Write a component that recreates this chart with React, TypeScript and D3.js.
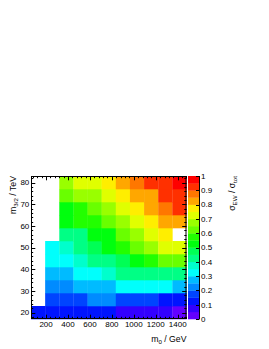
import React from 'react';
import * as d3 from 'd3';

// m0 bin centres (GeV) and m3/2 bin centres (TeV)
const m0Centers = [127, 256, 385, 514, 642, 771, 900, 1029, 1158, 1287, 1416];
const m0BinWidth = 128.8;
const m32Centers = [20, 26, 32, 38, 44, 50, 56, 62, 68, 74, 80];
const m32BinWidth = 6;

// sigma_EW / sigma_tot, one row per m3/2 value (null = no point)
const row20 = [0.13, 0.12, 0.12, 0.11, 0.11, 0.11, 0.08, 0.08, 0.07, 0.06, 0.03];
const row26 = [null, 0.18, 0.18, 0.17, 0.22, 0.21, 0.17, 0.17, 0.16, 0.13, 0.12];
const row32 = [null, 0.23, 0.23, 0.27, 0.27, 0.28, 0.32, 0.32, 0.31, 0.31, 0.28];
const row38 = [null, 0.28, 0.28, 0.32, 0.33, 0.37, 0.42, 0.42, 0.43, 0.42, 0.41];
const row44 = [null, 0.33, 0.33, 0.37, 0.42, 0.43, 0.47, 0.52, 0.57, 0.62, 0.62];
const row50 = [null, 0.32, 0.37, 0.42, 0.47, 0.52, 0.57, 0.62, 0.67, 0.72, 0.73];
const row56 = [null, null, 0.42, 0.43, 0.52, 0.53, 0.62, 0.67, 0.72, 0.77, null];
const row62 = [null, null, 0.52, 0.56, 0.57, 0.62, 0.67, 0.72, 0.77, 0.82, 0.83];
const row68 = [null, null, 0.53, 0.57, 0.62, 0.67, 0.72, 0.77, 0.82, 0.87, 0.92];
const row74 = [null, null, 0.62, 0.67, 0.68, 0.72, 0.77, 0.82, 0.83, 0.92, 0.93];
const row80 = [null, null, 0.67, 0.72, 0.73, 0.77, 0.82, 0.87, 0.92, 0.93, 0.97];
const ratioRows: (number | null)[][] = [row20, row26, row32, row38, row44, row50, row56, row62, row68, row74, row80];

const xTicks = [200, 400, 600, 800, 1000, 1200, 1400];
const xMinorStep = 40;
const yTicks = [20, 30, 40, 50, 60, 70, 80];
const yMinorStep = 2;
const zTicks = [0, 0.1, 0.2, 0.3, 0.4, 0.5, 0.6, 0.7, 0.8, 0.9, 1];
const zTickLabels = ['0', '0.1', '0.2', '0.3', '0.4', '0.5', '0.6', '0.7', '0.8', '0.9', '1'];
const nContours = 20;

// ROOT "pretty" palette (hue 280 -> 0), 50 colours, 20 contour levels
const paletteSize = 50;
const palette = d3.range(paletteSize).map(i =>
  i === paletteSize - 1 ? '#ff0000' : d3.hsl(280 - (i + 1) * (280 / paletteSize), 1, 0.5).formatHex()
);
const contourColors = d3.range(nContours).map(k => palette[Math.floor((k + 0.99) * paletteSize / nContours)]);

const W = 269, H = 349;
const frame = { left: 31, right: 186.5, top: 176, bottom: 319 };
const cbar = { left: 188, right: 199 };
const font = "'Liberation Sans', Arial, Helvetica, sans-serif";

export default function App() {
  const xDomain: [number, number] = [m0Centers[0] - m0BinWidth / 2, m0Centers[m0Centers.length - 1] + m0BinWidth / 2];
  const yDomain: [number, number] = [m32Centers[0] - m32BinWidth / 2, m32Centers[m32Centers.length - 1] + m32BinWidth / 2];
  const x = d3.scaleLinear().domain(xDomain).range([frame.left, frame.right]);
  const y = d3.scaleLinear().domain(yDomain).range([frame.bottom, frame.top]);
  const z = d3.scaleLinear().domain([0, 1]).range([frame.bottom, frame.top]);
  const color = d3.scaleQuantize<string>().domain([0, 1]).range(contourColors);

  const cells: JSX.Element[] = [];
  ratioRows.forEach((row, ri) => {
    row.forEach((v, ci) => {
      if (v === null) return;
      const x0 = x(m0Centers[ci] - m0BinWidth / 2), x1 = x(m0Centers[ci] + m0BinWidth / 2);
      const y0 = y(m32Centers[ri] + m32BinWidth / 2), y1 = y(m32Centers[ri] - m32BinWidth / 2);
      cells.push(<rect key={`c${ri}-${ci}`} x={x0} y={y0} width={x1 - x0 + 0.3} height={y1 - y0 + 0.3} fill={color(v)} />);
    });
  });

  const xMinor = d3.range(Math.ceil(xDomain[0] / xMinorStep) * xMinorStep, xDomain[1], xMinorStep);
  const yMinor = d3.range(Math.ceil(yDomain[0] / yMinorStep) * yMinorStep, yDomain[1], yMinorStep);
  const major = 4.3, minor = 2.2;

  const tickLines: JSX.Element[] = [];
  xMinor.forEach((t, i) => {
    const isMajor = xTicks.includes(t);
    const L = isMajor ? major : minor;
    const px = Math.round(x(t)) + 0.5;
    tickLines.push(<line key={`xb${i}`} x1={px} x2={px} y1={frame.bottom} y2={frame.bottom - L} />);
    tickLines.push(<line key={`xt${i}`} x1={px} x2={px} y1={frame.top} y2={frame.top + L} />);
  });
  yMinor.forEach((t, i) => {
    const isMajor = yTicks.includes(t);
    const L = isMajor ? major : minor;
    const py = Math.round(y(t)) + 0.5;
    tickLines.push(<line key={`yl${i}`} x1={frame.left} x2={frame.left + L} y1={py} y2={py} />);
    tickLines.push(<line key={`yr${i}`} x1={frame.right} x2={frame.right - L} y1={py} y2={py} />);
  });

  const cbBands = d3.range(nContours).map(k => {
    const v0 = k / nContours, v1 = (k + 1) / nContours;
    return <rect key={`b${k}`} x={cbar.left} y={z(v1)} width={cbar.right - cbar.left} height={z(v0) - z(v1) + 0.3} fill={contourColors[k]} />;
  });

  return (
    <svg width={W} height={H} style={{ position: 'absolute', left: 0, top: 0, background: '#fff' }} fontFamily={font}>
      <rect x={0} y={0} width={W} height={H} fill="#fff" />
      <g>{cells}</g>
      <g stroke="#000" strokeWidth={1}>{tickLines}</g>
      <rect x={frame.left + 0.5} y={frame.top + 0.5} width={frame.right - frame.left - 1} height={frame.bottom - frame.top - 1} fill="none" stroke="#000" strokeWidth={1} />
      {/* x tick labels */}
      <g fontSize={8} textAnchor="middle" fill="#000">
        {xTicks.map(t => <text key={`xl${t}`} x={x(t)} y={327}>{t}</text>)}
      </g>
      {/* y tick labels */}
      <g fontSize={8} textAnchor="end" fill="#000">
        {yTicks.map(t => <text key={`yl${t}`} x={29.3} y={y(t)} dy="0.35em">{t}</text>)}
      </g>
      {/* axis titles */}
      <text x={frame.right} y={341.5} fontSize={8.7} textAnchor="end">
        m<tspan fontSize={6.2} dy={2}>0</tspan><tspan dy={-2}> / GeV</tspan>
      </text>
      <text transform={`translate(15.5,${frame.top}) rotate(-90)`} fontSize={8.7} textAnchor="end">
        m<tspan fontSize={6.2} dy={2}>3/2</tspan><tspan dy={-2}> / TeV</tspan>
      </text>
      {/* colour bar */}
      <g>{cbBands}</g>
      <line x1={cbar.right + 0.5} x2={cbar.right + 0.5} y1={frame.top} y2={frame.bottom} stroke="#000" strokeWidth={1} />
      <g stroke="#000" strokeWidth={1}>
        {zTicks.map(t => {
          const py = Math.round(z(t)) + 0.5;
          return <line key={`zt${t}`} x1={cbar.right + 0.5} x2={cbar.right - 3} y1={py} y2={py} />;
        })}
      </g>
      <g fontSize={8} textAnchor="start" fill="#000">
        {zTicks.map((t, i) => <text key={`zl${t}`} x={201} y={z(t)} dy="0.35em">{zTickLabels[i]}</text>)}
      </g>
      <text transform={`translate(234.5,${frame.top}) rotate(-90)`} fontSize={8.7} textAnchor="end">
        σ<tspan fontSize={6.2} dy={2}>EW</tspan><tspan dy={-2}> / σ</tspan><tspan fontSize={6.2} dy={2}>tot</tspan>
      </text>
    </svg>
  );
}
